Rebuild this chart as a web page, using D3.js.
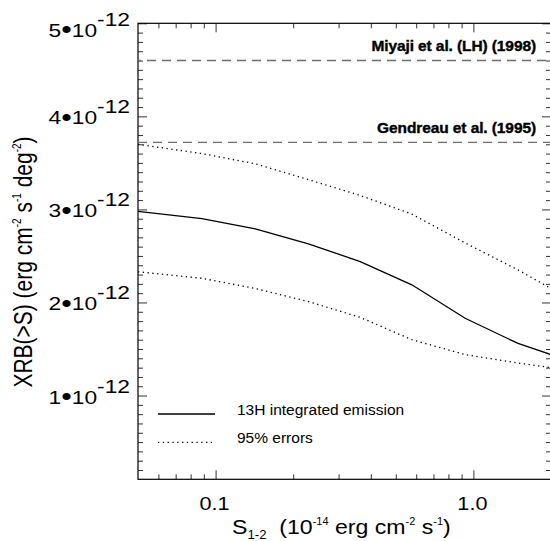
<!DOCTYPE html>
<html>
<head>
<meta charset="utf-8">
<script src="https://cdn.jsdelivr.net/npm/d3@7"></script>
<style>
  body { margin: 0; background: #fff; }
  svg { display: block; }
  text { font-family: "Liberation Sans", Arial, Helvetica, sans-serif; fill: #000; }
</style>
</head>
<body>
<svg id="chart" width="550" height="541"></svg>
<script>
// Flux limits S(1-2 keV), in units of 1e-14 erg cm^-2 s^-1
const fluxLimits = [0.05, 0.0885, 0.1426, 0.229, 0.364, 0.577, 0.929, 1.49, 2.0];
// Integrated background above S, in units of 1e-12 erg cm^-2 s^-1 deg^-2
const integrated = [2.98, 2.90, 2.79, 2.63, 2.44, 2.19, 1.83, 1.56, 1.44];
const upper95 = [3.70, 3.60, 3.49, 3.32, 3.15, 2.95, 2.64, 2.35, 2.15];
const lower95 = [2.33, 2.26, 2.15, 2.01, 1.84, 1.60, 1.44, 1.35, 1.30];

// Total background measurements
const refNames = ["Miyaji et al. (LH) (1998)", "Gendreau et al. (1995)"];
const refLevels = [4.6, 3.72];

const yTickValues = [1, 2, 3, 4, 5];
const yTickExponent = "-12";
const xTickValues = [0.1, 1.0];
const xTickLabels = ["0.1", "1.0"];
const legendLabels = ["13H integrated emission", "95% errors"];

const svg = d3.select("#chart");
const plot = { left: 138, top: 23.3, right: 551, bottom: 479.3 };

const x = d3.scaleLog().domain([0.05, 2.0]).range([plot.left, plot.right]);
const y = d3.scaleLinear().domain([0.1, 5.0]).range([plot.bottom, plot.top]);

// Tick positions: decades labelled, intermediate values as minor ticks
const xMinor = [];
[0.01, 0.1, 1].forEach(d => { for (let k = 2; k <= 9; k++) xMinor.push(+(d * k).toFixed(3)); });
const xMinorIn = xMinor.filter(v => v > 0.05 && v < 2.0);
const yMinor = d3.range(2, 50).map(v => v / 10).filter(v => Math.abs(v - Math.round(v)) > 1e-6);

const majorLen = 9, minorLen = 5;
const tickColor = "#333";

function addAxis(axis, tx, ty) {
  const g = svg.append("g").attr("transform", `translate(${tx},${ty})`).call(axis);
  g.select(".domain").remove();
  g.selectAll(".tick line").attr("stroke", tickColor).attr("stroke-width", 1);
  g.selectAll(".tick text").remove();
  return g;
}

// bottom & top (ticks pointing into the plot)
addAxis(d3.axisBottom(x).tickValues(xTickValues).tickSizeInner(-majorLen).tickSizeOuter(0), 0, plot.bottom);
addAxis(d3.axisBottom(x).tickValues(xMinorIn).tickSizeInner(-minorLen).tickSizeOuter(0), 0, plot.bottom);
addAxis(d3.axisTop(x).tickValues(xTickValues).tickSizeInner(-majorLen).tickSizeOuter(0), 0, plot.top);
addAxis(d3.axisTop(x).tickValues(xMinorIn).tickSizeInner(-minorLen).tickSizeOuter(0), 0, plot.top);
// left & right
addAxis(d3.axisLeft(y).tickValues(yTickValues).tickSizeInner(-majorLen).tickSizeOuter(0), plot.left, 0);
addAxis(d3.axisLeft(y).tickValues(yMinor).tickSizeInner(-minorLen).tickSizeOuter(0), plot.left, 0);
addAxis(d3.axisRight(y).tickValues(yTickValues).tickSizeInner(-majorLen).tickSizeOuter(0), plot.right, 0);
addAxis(d3.axisRight(y).tickValues(yMinor).tickSizeInner(-minorLen).tickSizeOuter(0), plot.right, 0);

// frame
svg.append("rect")
  .attr("x", plot.left).attr("y", plot.top)
  .attr("width", plot.right - plot.left).attr("height", plot.bottom - plot.top)
  .attr("fill", "none").attr("stroke", "#000").attr("stroke-width", 1.2);

// reference levels
refLevels.forEach((lv, i) => {
  svg.append("line")
    .attr("x1", plot.left).attr("x2", plot.right)
    .attr("y1", y(lv)).attr("y2", y(lv))
    .attr("stroke", "#6e6e6e").attr("stroke-width", 1.4)
    .attr("stroke-dasharray", "9,6")
    .attr("stroke-dashoffset", i === 0 ? -9 : 0);
  svg.append("text")
    .attr("x", 536).attr("y", y(lv) - 9.3)
    .attr("text-anchor", "end")
    .attr("font-size", 15.5).attr("font-weight", "bold")
    .attr("letter-spacing", -0.1)
    .attr("stroke", "#000").attr("stroke-width", 0.4)
    .text(refNames[i]);
});

// curves
const line = d3.line().x((d, i) => x(fluxLimits[i])).y(d => y(d));
svg.append("path").datum(upper95).attr("d", line)
  .attr("fill", "none").attr("stroke", "#000").attr("stroke-width", 1.3).attr("stroke-dasharray", "1.3,3.5");
svg.append("path").datum(lower95).attr("d", line)
  .attr("fill", "none").attr("stroke", "#000").attr("stroke-width", 1.3).attr("stroke-dasharray", "1.3,3.5");
svg.append("path").datum(integrated).attr("d", line)
  .attr("fill", "none").attr("stroke", "#000").attr("stroke-width", 1.3);

// y tick labels: "n•10^-12"
yTickValues.forEach(v => {
  const base = Math.max(y(v) + 8, plot.top + 13.4);
  const t = svg.append("text")
    .attr("transform", `translate(130,${base}) scale(1.2,1)`)
    .attr("text-anchor", "end")
    .attr("font-size", 19);
  t.append("tspan").text(`${v}`);
  t.append("tspan").attr("font-size", 25).attr("dy", 1.5).text("\u2022");
  t.append("tspan").attr("dy", -1.5).text("10");
  t.append("tspan").attr("dy", -11).text(yTickExponent);
});

// x tick labels
xTickValues.forEach((v, i) => {
  svg.append("text")
    .attr("transform", `translate(${x(v) - 1},510) scale(1.14,1)`)
    .attr("text-anchor", "middle")
    .attr("font-size", 19)
    .text(xTickLabels[i]);
});

// x axis title
const xt = svg.append("text")
  .attr("transform", "translate(232,534) scale(1.1,1)")
  .attr("font-size", 21);
xt.append("tspan").text("S");
xt.append("tspan").attr("font-size", 12).attr("dy", 4.5).text("1-2");
xt.append("tspan").attr("dy", -4.5).text("\u00a0 (10");
xt.append("tspan").attr("font-size", 10).attr("dy", -9).text("-14");
xt.append("tspan").attr("dy", 9).text(" erg cm");
xt.append("tspan").attr("font-size", 10).attr("dy", -9).text("-2");
xt.append("tspan").attr("dy", 9).text(" s");
xt.append("tspan").attr("font-size", 10).attr("dy", -9).text("-1");
xt.append("tspan").attr("dy", 9).text(")");

// y axis title
const yt = svg.append("text")
  .attr("transform", "translate(32,262) scale(1.2,1) rotate(-90)")
  .attr("text-anchor", "middle")
  .attr("font-size", 21);
yt.append("tspan").text("XRB(>S) (erg cm");
yt.append("tspan").attr("font-size", 10).attr("dy", -9).text("-2");
yt.append("tspan").attr("dy", 9).text(" s");
yt.append("tspan").attr("font-size", 10).attr("dy", -9).text("-1");
yt.append("tspan").attr("dy", 9).text(" deg");
yt.append("tspan").attr("font-size", 10).attr("dy", -9).text("-2");
yt.append("tspan").attr("dy", 9).text(")");

// legend
const legend = svg.append("g");
const legendY = [414, 442.3];
legend.append("line").attr("x1", 158).attr("x2", 215).attr("y1", legendY[0]).attr("y2", legendY[0])
  .attr("stroke", "#000").attr("stroke-width", 1.3);
legend.append("line").attr("x1", 158).attr("x2", 214).attr("y1", legendY[1]).attr("y2", legendY[1])
  .attr("stroke", "#000").attr("stroke-width", 1.3).attr("stroke-dasharray", "1.3,3.5");
legendLabels.forEach((s, i) => {
  legend.append("text").attr("x", 237).attr("y", legendY[i] + 0.5)
    .attr("font-size", 15.5).text(s);
});
</script>
</body>
</html>
